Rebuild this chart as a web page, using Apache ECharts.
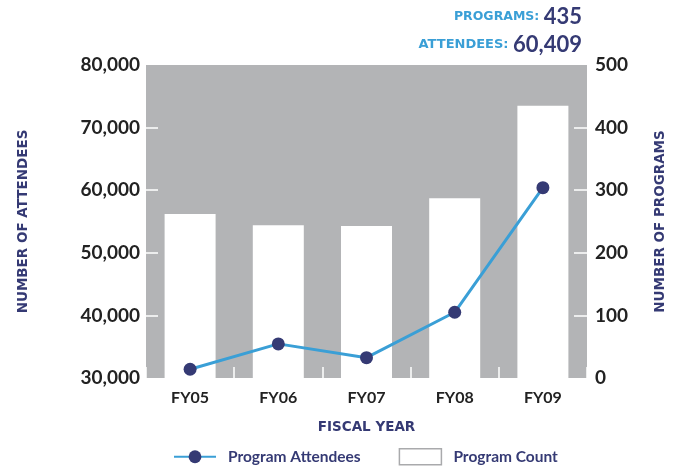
<!DOCTYPE html>
<html>
<head>
<meta charset="utf-8">
<script src="https://cdn.jsdelivr.net/npm/echarts@6/dist/echarts.min.js"></script>
<style>html,body{margin:0;padding:0;background:#fff}#c{width:681px;height:469px}</style>
</head>
<body>
<div id="c"></div>
<script>
const categories = ['FY05', 'FY06', 'FY07', 'FY08', 'FY09'];
const attendees = [31400, 35450, 33250, 40500, 60409];
const programCount = [262, 244, 243, 287, 435];
const leftTicks = [30000, 40000, 50000, 60000, 70000, 80000];
const rightTicks = [0, 100, 200, 300, 400, 500];

const NAVY = '#353a74';
const BLUE = '#3a9fd6';
const GREY = '#b3b4b6';
const FONT = 'Lato';
const NAMEFONT = 'DejaVu Sans';

const chart = echarts.init(document.getElementById('c'));
chart.setOption({
  animation: false,
  title: [{
    text: '{a|PROGRAMS: }{b|435}',
    right: 94, top: 1,
    textStyle: { rich: {
      a: { fontFamily: NAMEFONT, fontWeight: 'bold', fontSize: 12.5, color: BLUE },
      b: { fontFamily: FONT, fontWeight: 'bold', fontSize: 22, color: NAVY }
    } }
  }, {
    text: '{a|ATTENDEES: }{b|60,409}',
    right: 94, top: 29,
    textStyle: { rich: {
      a: { fontFamily: NAMEFONT, fontWeight: 'bold', fontSize: 13, color: BLUE },
      b: { fontFamily: FONT, fontWeight: 'bold', fontSize: 22, color: NAVY }
    } }
  }],
  grid: { left: 146, right: 94, top: 65, bottom: 91, show: true, backgroundColor: GREY, borderWidth: 0 },
  legend: {
    top: 443, left: 168, itemGap: 38, itemWidth: 42, itemHeight: 16,
    textStyle: { fontFamily: FONT, fontWeight: 'bold', fontSize: 15.5, color: NAVY, padding: [0, 0, 0, 7] },
    data: [
      { name: 'Program Attendees' },
      { name: 'Program Count', icon: 'rect', itemStyle: { color: '#fff', borderColor: '#a9aaac', borderWidth: 1.5 } }
    ]
  },
  xAxis: {
    type: 'category', data: categories, boundaryGap: true,
    axisLine: { show: false },
    axisTick: { show: true, inside: true, length: 11, lineStyle: { color: '#fff', width: 1.5 } },
    axisLabel: { margin: 12, fontFamily: FONT, fontWeight: 'bold', fontSize: 16, color: '#222' },
    name: 'FISCAL YEAR', nameLocation: 'middle', nameGap: 42,
    nameTextStyle: { fontFamily: NAMEFONT, fontWeight: 'bold', fontSize: 13.5, color: NAVY }
  },
  yAxis: [{
    type: 'value', min: leftTicks[0], max: leftTicks[leftTicks.length - 1], interval: 10000,
    position: 'left',
    axisLine: { show: false },
    splitLine: { show: false },
    axisTick: { show: true, inside: true, length: 12, customValues: leftTicks.slice(1, -1), lineStyle: { color: '#fff', width: 1.5 } },
    axisLabel: { margin: 6, fontFamily: FONT, fontWeight: 'bold', fontSize: 19, color: '#222',
      formatter: v => v.toLocaleString('en-US') },
    name: 'NUMBER OF ATTENDEES', nameLocation: 'middle', nameGap: 116, nameRotate: 90,
    nameTextStyle: { fontFamily: NAMEFONT, fontWeight: 'bold', fontSize: 13.5, color: NAVY }
  }, {
    type: 'value', min: rightTicks[0], max: rightTicks[rightTicks.length - 1], interval: 100,
    position: 'right',
    axisLine: { show: false },
    splitLine: { show: false },
    axisTick: { show: true, inside: true, length: 13, customValues: rightTicks.slice(1, -1), lineStyle: { color: '#fff', width: 1.5 } },
    axisLabel: { margin: 8, fontFamily: FONT, fontWeight: 'bold', fontSize: 19, color: '#222' },
    name: 'NUMBER OF PROGRAMS', nameLocation: 'middle', nameGap: 66, nameRotate: 90,
    nameTextStyle: { fontFamily: NAMEFONT, fontWeight: 'bold', fontSize: 13.5, color: NAVY }
  }],
  series: [{
    name: 'Program Count', type: 'bar', yAxisIndex: 1, data: programCount,
    barWidth: 51, itemStyle: { color: '#fff' }, z: 2
  }, {
    name: 'Program Attendees', type: 'line', yAxisIndex: 0, data: attendees,
    symbol: 'circle', symbolSize: 13, z: 3,
    lineStyle: { color: BLUE, width: 3 },
    itemStyle: { color: NAVY }
  }]
});
</script>
</body>
</html>
